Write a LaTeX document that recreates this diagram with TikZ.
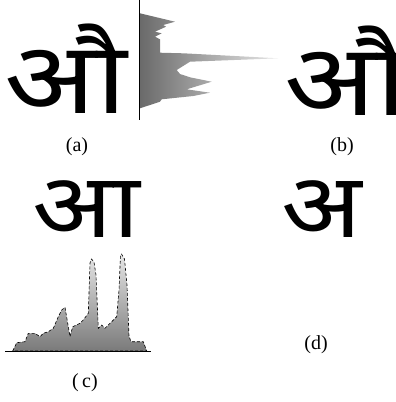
\documentclass[tikz,border=0pt]{standalone}
\usepackage{fontspec}
\setmainfont{Liberation Serif}
\newfontfamily\deva[Script=Devanagari]{Noto Sans}
\definecolor{hdark}{HTML}{6A6A6A}
\definecolor{hlight}{HTML}{E8E8E8}
\definecolor{cdark}{HTML}{7A7A7A}
\definecolor{clight}{HTML}{E6E6E6}
\newcommand{\wideglyph}[2]{\scalebox{#1}[1]{#2}}
\begin{document}
\begin{tikzpicture}[x=1bp,y=-1bp,
  lab/.style={font=\fontsize{20bp}{24bp}\selectfont, inner sep=0},
  bigglyph/.style={inner sep=0, anchor=base west, text depth=0pt, font=\fontsize{100bp}{104bp}\selectfont\deva},
  smallglyph/.style={inner sep=0, anchor=base west, text depth=0pt, font=\fontsize{90bp}{94bp}\selectfont\deva}]
\useasboundingbox (0,0) rectangle (396,402);
% (a)
\node[bigglyph] (ga) at (4,113) {\wideglyph{1.2}{औ}};
\draw[line width=1bp] (139.5,0) -- (139.5,120);
\shade[left color=hdark, right color=hlight]
  (140,13.3) -- (175,21.7) -- (163.3,25) -- (166,26.7) -- (155,31.7) -- (161.7,33.3)
  -- (155,36.7) -- (160,39.3) -- (160,52.7) -- (183.3,53.3) -- (278.3,58.3)
  -- (190,61.7) -- (176.7,70) -- (180,74) -- (190,77.3) -- (211.7,81.7)
  -- (186.7,89.3) -- (210,92.7) -- (193.3,96) -- (161.7,99.3) -- (160,101.7)
  -- (140,108.3) -- cycle;
\node[lab] (la) at (77,147) {(a)};
% (b)
\node[bigglyph] (gb) at (284,115) {\wideglyph{1.2}{औ}};
\node[lab] (lb) at (342,147) {(b)};
% row 2
\node[smallglyph] (gc) at (32,237) {\wideglyph{1.17}{आ}};
\node[smallglyph] (gd) at (281,237) {\wideglyph{1.17}{अ}};
% (c) histogram
\draw[black, line width=0.6bp, dash pattern=on 3bp off 2bp, top color=clight, bottom color=cdark]
  (12.7,351) -- (16.7,342.7) -- (25,341.7) -- (28.3,333.3) -- (35,333.3) -- (40,336.7)
  -- (43.3,333.3) -- (48.3,331.7) -- (53.3,328.3) -- (58.3,316.7) -- (61.7,310)
  -- (65,307.3) -- (70,336.7) -- (72.7,326.7) -- (80,323.3) -- (83.3,320) -- (88.3,313.3)
  -- (90,263) -- (91.5,259) -- (94,262) -- (96,275) -- (98.3,328.3) -- (101.7,325)
  -- (105,328.3) -- (110,323.3) -- (116.7,316.7) -- (119,290) -- (120.5,255)
  -- (121.5,254) -- (124.5,259) -- (127,285) -- (129,336) -- (131,341.7)
  -- (143.3,341.7) -- (146.7,351) -- cycle;
\draw[line width=1bp] (5,351) -- (151,351);
\node[lab] (lc) at (85,383) {(\,c)};
\node[lab] (ld) at (316,345) {(d)};
\end{tikzpicture}
\end{document}
